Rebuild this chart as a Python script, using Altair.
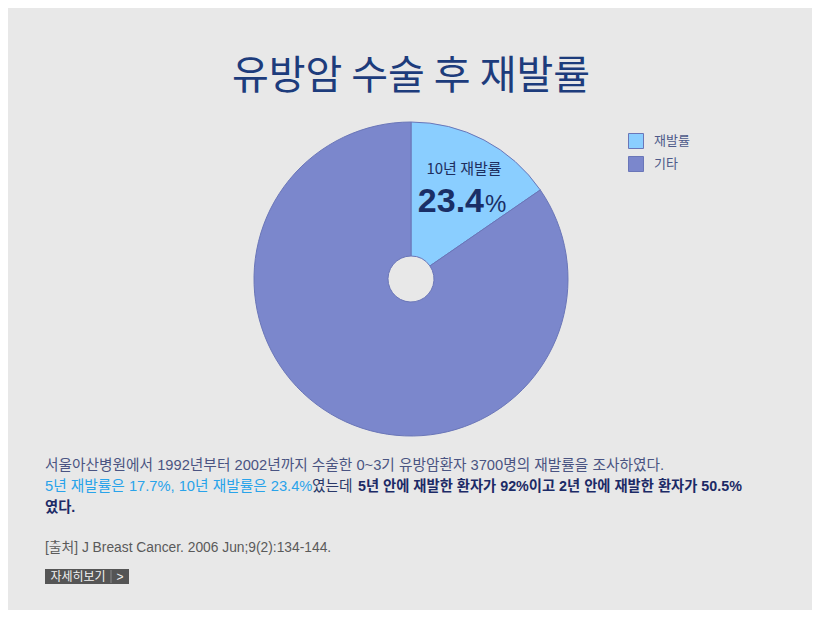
import altair as alt
import pandas as pd

# data
title_text = "유방암 수술 후 재발률"
categories = ["재발률", "기타"]
shares = [15.4, 84.6]  # slice size as drawn in the picture
slice_order = [0, 1]
slice_colors = ["#8ACEFF", "#7B87CC"]

slice_label = "10년 재발률"
slice_value = "23.4"
slice_unit = "%"

note_line1 = "서울아산병원에서 1992년부터 2002년까지 수술한 0~3기 유방암환자 3700명의 재발률을 조사하였다."
note_blue = "5년 재발률은 17.7%, 10년 재발률은 23.4%"
note_mid = "였는데"
note_bold = "5년 안에 재발한 환자가 92%이고 2년 안에 재발한 환자가 50.5%"
note_end = "였다."
source_text = "[출처] J Breast Cancer. 2006 Jun;9(2):134-144."
button_text = "자세히보기"
button_arrow = ">"

FONT = "Noto Sans CJK KR"
BODY_FONT = "Liberation Sans, Noto Sans CJK KR"

df = pd.DataFrame({"category": categories, "share": shares, "order": slice_order})


def one_row():
    return alt.Data(values=[{}])


def label(text, x, y, size=14.7, color="#333333", weight="normal", align="left",
          baseline="middle", font=BODY_FONT):
    return alt.Chart(one_row()).mark_text(
        text=text, font=font, fontSize=size, color=color, fontWeight=weight,
        align=align, baseline=baseline,
    ).encode(x=alt.value(x), y=alt.value(y))


# pie
pie = (
    alt.Chart(df)
    .mark_arc(radius=157, innerRadius=23, stroke="#6A76B8", strokeWidth=1)
    .encode(
        theta=alt.Theta("share:Q", stack=True),
        order=alt.Order("order:Q"),
        color=alt.Color(
            "category:N",
            scale=alt.Scale(domain=categories, range=slice_colors),
            legend=alt.Legend(
                orient="none",
                legendX=620,
                legendY=125,
                title=None,
                symbolType="square",
                symbolSize=225,
                symbolStrokeWidth=1,
                labelFont=FONT,
                labelFontSize=13,
                labelColor="#4E5A8A",
                labelOffset=10,
                rowPadding=3,
                padding=0,
            ),
        ),
        x=alt.value(403),
        y=alt.value(271),
    )
)

# button
button_box = alt.Chart(one_row()).mark_rect(color="#555555").encode(
    x=alt.value(37), x2=alt.value(121), y=alt.value(561), y2=alt.value(576)
)
button_sep = alt.Chart(one_row()).mark_rule(color="#8A8A8A", strokeWidth=1).encode(
    x=alt.value(103), y=alt.value(562), y2=alt.value(575)
)

layers = [
    pie,
    label(title_text, 403, 69, size=40, color="#1D3C7C", align="center", font=FONT),
    label(slice_label, 456, 161, size=15, color="#1E2E5E", align="center", font=FONT),
    label(slice_value, 476, 204, size=34, color="#1A2E66", weight="bold",
          align="right", baseline="alphabetic", font="Liberation Sans"),
    label(slice_unit, 477, 204, size=24, color="#1A2E66", baseline="alphabetic"),
    label(note_line1, 37, 458, color="#4A5482"),
    label(note_blue, 37, 479, color="#29A3EA"),
    label(note_mid, 304, 479, color="#2A3868"),
    label(note_bold, 350, 479, size=14.3, color="#1C2A66", weight="bold"),
    label(note_end, 37, 500, size=14.3, color="#1C2A66", weight="bold"),
    label(source_text, 37, 540, size=13.8, color="#5A5A5A"),
    button_box,
    button_sep,
    label(button_text, 70, 569, size=12, color="#F2F2F2", align="center"),
    label(button_arrow, 112, 569, size=12, color="#F2F2F2", align="center"),
]

chart = (
    alt.layer(*layers)
    .properties(
        width=804,
        height=602,
        autosize=alt.AutoSizeParams(type="fit", contains="padding"),
        padding=0,
    )
    .configure(background="#E8E8E8")
    .configure_view(strokeWidth=0)
)

chart.save("out.html", embed_options={"renderer": "svg", "actions": False})
